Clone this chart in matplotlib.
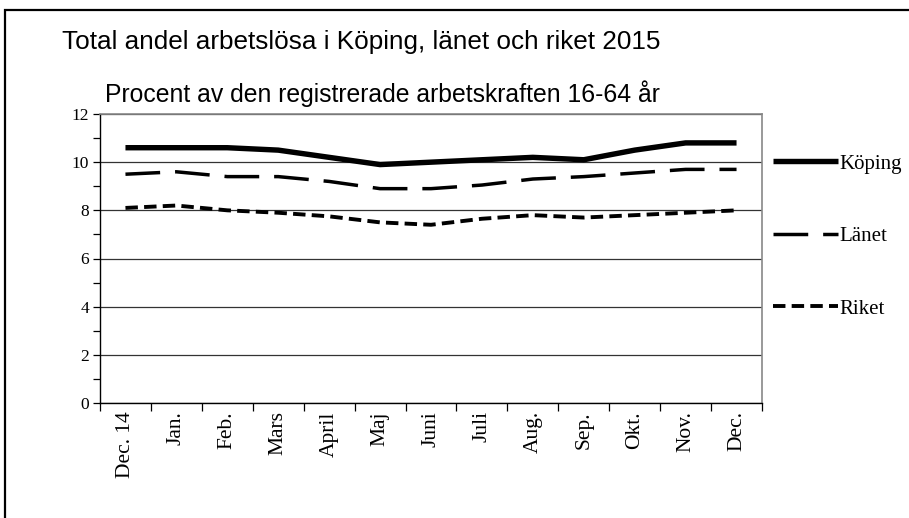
import matplotlib
matplotlib.use("Agg")
import matplotlib.pyplot as plt
from matplotlib.patches import Rectangle
from matplotlib.ticker import MultipleLocator

months = ["Dec. 14", "Jan.", "Feb.", "Mars", "April", "Maj", "Juni", "Juli",
          "Aug.", "Sep.", "Okt.", "Nov.", "Dec."]
koping = [10.6, 10.6, 10.6, 10.5, 10.2, 9.9, 10.0, 10.1, 10.2, 10.1, 10.5, 10.8, 10.8]
lanet = [9.5, 9.6, 9.4, 9.4, 9.2, 8.9, 8.9, 9.05, 9.3, 9.4, 9.55, 9.7, 9.7]
riket = [8.1, 8.2, 8.0, 7.9, 7.75, 7.5, 7.4, 7.65, 7.8, 7.7, 7.8, 7.9, 8.0]

W, H = 909, 518
fig = plt.figure(figsize=(W / 100, H / 100), dpi=100)
fig.patches.append(Rectangle((4.5 / W, -0.05), 1.1, 1 - 10 / H + 0.05, transform=fig.transFigure,
                             fill=False, edgecolor="black", linewidth=1.6))

ax = fig.add_axes([100 / W, 1 - 403 / H, 662 / W, 289 / H])
x = list(range(len(months)))
ax.plot(x, koping, color="black", lw=3.9, solid_capstyle="butt", solid_joinstyle="round", label="Köping")
ax.plot(x, lanet, color="black", lw=2.5, dashes=(10.0, 4.3), dash_capstyle="butt", label="Länet")
ax.plot(x, riket, color="black", lw=2.8, dashes=(3.2, 1.6), dash_capstyle="butt", label="Riket")

ax.set_xlim(-0.5, len(months) - 0.5)
ax.set_ylim(0, 12)
ax.yaxis.set_major_locator(MultipleLocator(2))
ax.yaxis.set_minor_locator(MultipleLocator(1))
ax.set_xticks(x)
ax.set_xticklabels(months, rotation=90, family="Liberation Serif", fontsize=15.5)
ax.set_xticks([i - 0.5 for i in range(len(months) + 1)], minor=True)
ax.tick_params(axis="x", which="major", length=0, pad=6)
ax.tick_params(axis="x", which="minor", length=6, width=0.9, direction="out")
ax.tick_params(axis="y", which="major", length=5, width=0.9, direction="out", pad=3)
ax.tick_params(axis="y", which="minor", length=5, width=0.9, direction="out")
for lbl in ax.get_yticklabels():
    lbl.set_family("Liberation Serif")
    lbl.set_fontsize(12.5)
ax.grid(axis="y", which="major", color="#333333", lw=0.9)
ax.set_axisbelow(True)
for s in ["top", "right"]:
    ax.spines[s].set_color("#888888")
    ax.spines[s].set_linewidth(1.2)
for s in ["left", "bottom"]:
    ax.spines[s].set_color("black")
    ax.spines[s].set_linewidth(1.0)

leg = fig.legend(handles=ax.get_lines(), loc="upper left",
                 bbox_to_anchor=(773 / W, 1 - 154 / H), bbox_transform=fig.transFigure,
                 frameon=False, prop={"family": "Liberation Serif", "size": 15},
                 handlelength=3.1, handletextpad=0.08, labelspacing=2.54,
                 borderpad=0.0, borderaxespad=0.0)

fig.text(62 / W, 1 - 42 / H, "Total andel arbetslösa i Köping, länet och riket 2015",
         family="Liberation Sans", fontsize=18.8, va="center", ha="left")
fig.text(105 / W, 1 - 94 / H, "Procent av den registrerade arbetskraften 16-64 år",
         family="Liberation Sans", fontsize=17.8, va="center", ha="left")

fig.savefig("out.png", dpi=100)
